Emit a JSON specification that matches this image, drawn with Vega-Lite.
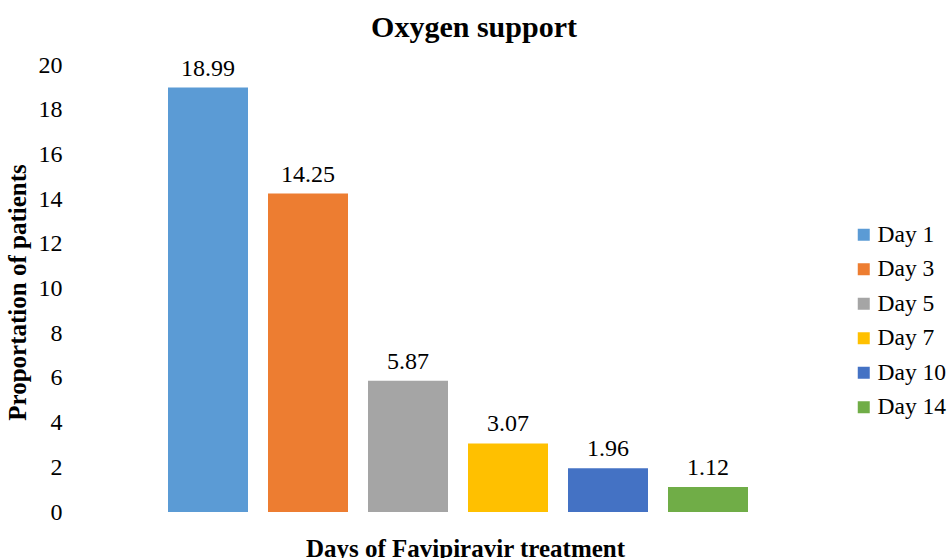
{
  "$schema": "https://vega.github.io/schema/vega-lite/v6.json",
  "autosize": {"type": "none"},
  "padding": {"left": 70, "top": 65, "right": 103, "bottom": 46},
  "width": 776,
  "height": 447,
  "background": "white",
  "title": {
    "text": "Oxygen support",
    "font": "Liberation Serif",
    "fontSize": 30,
    "fontWeight": "bold",
    "color": "#000000",
    "anchor": "middle",
    "dx": 16,
    "offset": 10
  },
  "data": {
    "values": [
      {"day": "Day 1", "value": 18.99},
      {"day": "Day 3", "value": 14.25},
      {"day": "Day 5", "value": 5.87},
      {"day": "Day 7", "value": 3.07},
      {"day": "Day 10", "value": 1.96},
      {"day": "Day 14", "value": 1.12}
    ]
  },
  "config": {
    "view": {"stroke": null},
    "text": {"font": "Liberation Serif"}
  },
  "encoding": {
    "x": {
      "field": "day",
      "type": "nominal",
      "sort": ["Day 1", "Day 3", "Day 5", "Day 7", "Day 10", "Day 14"],
      "scale": {"paddingInner": 0.2, "paddingOuter": 0.98},
      "axis": {
        "title": "Days of Favipiravir treatment",
        "labels": false,
        "ticks": false,
        "domain": false,
        "titleFont": "Liberation Serif",
        "titleFontSize": 25,
        "titleFontWeight": "bold",
        "titleColor": "#000000",
        "titleX": 395,
        "titleY": 24,
        "titleBaseline": "top"
      }
    },
    "y": {
      "field": "value",
      "type": "quantitative",
      "scale": {"domain": [0, 20]},
      "axis": {
        "title": "Proportation of patients",
        "values": [0, 2, 4, 6, 8, 10, 12, 14, 16, 18, 20],
        "grid": false,
        "ticks": false,
        "domain": false,
        "labelFont": "Liberation Serif",
        "labelFontSize": 24,
        "labelColor": "#000000",
        "labelPadding": 8,
        "titleFont": "Liberation Serif",
        "titleFontSize": 25,
        "titleFontWeight": "bold",
        "titleColor": "#000000",
        "titleX": -40,
        "titleY": 227
      }
    }
  },
  "layer": [
    {
      "mark": {"type": "bar"},
      "encoding": {
        "color": {
          "field": "day",
          "type": "nominal",
          "sort": ["Day 1", "Day 3", "Day 5", "Day 7", "Day 10", "Day 14"],
          "scale": {
            "domain": ["Day 1", "Day 3", "Day 5", "Day 7", "Day 10", "Day 14"],
            "range": ["#5B9BD5", "#ED7D31", "#A5A5A5", "#FFC000", "#4472C4", "#70AD47"]
          },
          "legend": {
            "title": null,
            "orient": "none",
            "legendX": 782,
            "legendY": 158,
            "symbolType": "square",
            "symbolSize": 144,
            "symbolStrokeWidth": 0,
            "labelFont": "Liberation Serif",
            "labelFontSize": 23.5,
            "labelColor": "#000000",
            "rowPadding": 9.5,
            "labelOffset": 2
          }
        }
      }
    },
    {
      "mark": {"type": "text", "baseline": "alphabetic", "dy": -12, "fontSize": 24, "color": "#000000"},
      "encoding": {
        "text": {"field": "value", "type": "quantitative", "format": ".2f"}
      }
    }
  ]
}
